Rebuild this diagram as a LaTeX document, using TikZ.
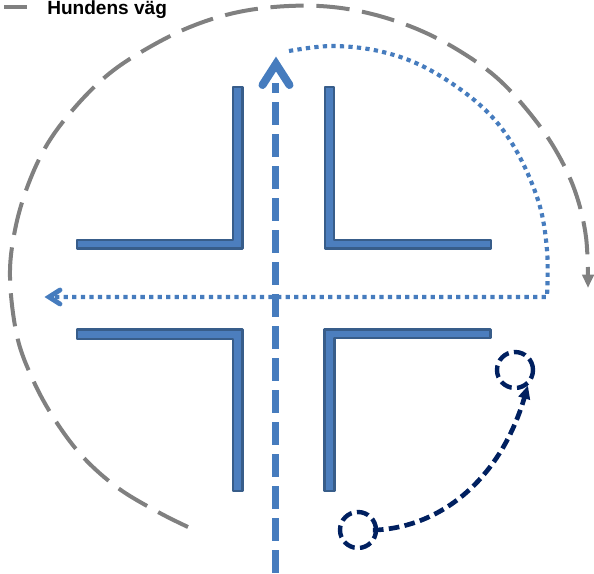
\documentclass[tikz,border=0pt]{standalone}
\usepackage{fontspec}
\setmainfont{Liberation Sans}
\usetikzlibrary{arrows.meta}
\definecolor{wallfill}{RGB}{76,126,190}
\definecolor{walledge}{RGB}{56,93,138}
\definecolor{pathblue}{RGB}{70,124,190}
\definecolor{hundgray}{RGB}{128,128,128}
\definecolor{navy}{RGB}{0,32,96}
\tikzset{
 wall/.style={fill=wallfill,draw=walledge,line width=1.8pt,line join=round},
 hund/.style={draw=hundgray,line width=3pt,dash pattern=on 25pt off 9.5pt},
 bigpath/.style={draw=pathblue,line width=5.6pt,dash pattern=on 17pt off 7pt},
 dotpath/.style={draw=pathblue,line width=3.1pt,dash pattern=on 3.2pt off 3.2pt},
 navydash/.style={draw=navy,line width=3.5pt,dash pattern=on 8pt off 4pt},
 label/.style={font=\bfseries\fontsize{14.3}{16}\selectfont,text=black,anchor=west,inner sep=0pt},
 spot/.style={circle,draw=navy,line width=3.3pt,dash pattern=on 9pt off 4pt,minimum size=27pt,inner sep=0pt}
}
\begin{document}
\begin{tikzpicture}[x=0.75pt,y=-0.75pt]
\useasboundingbox (0,0) rectangle (594,574);
% walls
\draw[wall] (233,87) -- (242.3,87) -- (242.3,248.5) -- (77,248.5) -- (77,240) -- (233,240) -- cycle;
\draw[wall] (325,87) -- (334,87) -- (334,240) -- (491,240) -- (491,248.5) -- (325,248.5) -- cycle;
\draw[wall] (77,329.5) -- (242.3,329.5) -- (242.3,491) -- (233,491) -- (233,339) -- (77,339) -- cycle;
\draw[wall] (324.5,329.5) -- (490.5,329.5) -- (490.5,338) -- (334.5,338) -- (334.5,491) -- (324.5,491) -- cycle;
% legend
\coordinate (legA) at (4,7);
\coordinate (legB) at (27,7);
\draw[draw=hundgray,line width=3pt] (legA) -- (legB);
\node[label] (lbl) at (47,10) {Hundens väg};
% grey path
\draw[hund,-{Triangle[length=10pt,width=8.5pt]}] plot[smooth,tension=0.6] coordinates {
 (188,527) (158,512) (118,488) (83,457) (55,420) (33,380) (17,336) (10,277) (15,230) (28,185)
 (48,143) (77,105) (110,73) (148,48) (190,27) (234,13) (280,6.5) (327,6.5) (372,14) (417,29)
 (458,50) (496,77) (528,111) (555,149) (575,191) (586,237) (588,288)};
% main arrow
\coordinate (m0) at (275.5,573);
\coordinate (m1) at (276,64);
\draw[bigpath] (m0) -- (275.5,83);
\draw[draw=pathblue,line width=6pt,line cap=round,line join=miter] (262.5,85) -- (m1) -- (289.5,85);
% dotted arrow
\coordinate (d2) at (49,297);
\draw[dotpath] plot[smooth,tension=0.6] coordinates {(289,51) (333,46) (383,52) (430,70) (480,105) (513,145) (538,200) (547,250) (547,297)} -- (54,297);
\draw[draw=pathblue,line width=3.6pt,line cap=round,line join=miter] (60,290) -- (d2) -- (60,304);
% navy
\node[spot] (s1) at (358,530) {};
\node[spot] (s2) at (515,370) {};
\draw[navydash,shorten <=-4pt,-{Triangle[length=10pt,width=8.5pt]}] (s1.east) .. controls (440,528) and (500,480) .. (s2.-50);
\end{tikzpicture}
\end{document}
